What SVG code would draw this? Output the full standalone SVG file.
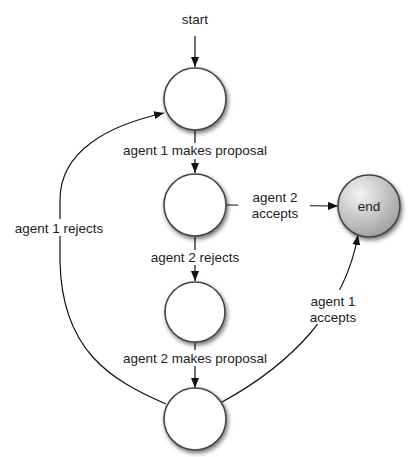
<svg xmlns="http://www.w3.org/2000/svg" width="411" height="457" viewBox="0 0 411 457">
<style>
.node{fill:#fff;stroke:#444;stroke-width:1.6;filter:url(#sh)}
.end{fill:url(#g);stroke:#444;stroke-width:1.6;filter:url(#sh)}
.edge{fill:none;stroke:#111;stroke-width:1.2}
.arr{marker-end:url(#ah)}
text{font-family:"Liberation Sans",Arial,sans-serif;font-size:13.5px;fill:#222;text-anchor:middle}
.bg{fill:#fff}
</style>
<defs>
<filter id="sh" x="-30%" y="-30%" width="160%" height="160%">
<feDropShadow dx="1.5" dy="2.5" stdDeviation="2.2" flood-color="#000" flood-opacity="0.55"/>
</filter>
<radialGradient id="g" cx="0.35" cy="0.3" r="0.8">
<stop offset="0" stop-color="#f4f4f4"/>
<stop offset="1" stop-color="#9a9a9a"/>
</radialGradient>
<marker id="ah" viewBox="0 0 10 8" refX="10" refY="4" markerWidth="10" markerHeight="8" markerUnits="userSpaceOnUse" orient="auto">
<path d="M0 0L10 4L0 8z" fill="#111"/>
</marker>
</defs>
<g id="connectors">
<line class="edge arr" x1="195" y1="36" x2="195" y2="67"/>
<line class="edge arr" x1="195" y1="130" x2="195" y2="173"/>
<line class="edge arr" x1="195" y1="237" x2="195" y2="281"/>
<line class="edge arr" x1="195" y1="343" x2="195" y2="388"/>
<line class="edge arr" x1="226" y1="205" x2="338" y2="206"/>
<path class="edge arr" d="M166 404C110 380 62 350 60 262L60 200C60 150 110 125 164 113"/>
<path class="edge arr" d="M222 402C290 365 345 310 358 235"/>
</g>
<g id="labels">
<rect class="bg" x="116" y="143" width="158" height="16"/>
<text x="195" y="155">agent 1 makes proposal</text>
<rect class="bg" x="143" y="250" width="104" height="15"/>
<text x="195" y="262">agent 2 rejects</text>
<rect class="bg" x="116" y="350" width="158" height="16"/>
<text x="195" y="363">agent 2 makes proposal</text>
<rect class="bg" x="10" y="219" width="98" height="17"/>
<text x="59" y="233">agent 1 rejects</text>
<rect class="bg" x="238" y="189" width="72" height="33"/>
<text x="275" y="202">agent 2</text>
<text x="275" y="218">accepts</text>
<rect class="bg" x="304" y="290" width="58" height="34"/>
<text x="333" y="306">agent 1</text>
<text x="333" y="322">accepts</text>
<text x="195" y="24">start</text>
</g>
<g id="n1"><circle class="node" cx="195" cy="99" r="31"/></g>
<g id="n2"><circle class="node" cx="195" cy="205" r="31"/></g>
<g id="n3"><circle class="node" cx="195" cy="312" r="30"/></g>
<g id="n4"><circle class="node" cx="195" cy="419" r="31"/></g>
<g id="end"><circle class="end" cx="369" cy="206" r="31"/><text x="369" y="211">end</text></g>
</svg>
